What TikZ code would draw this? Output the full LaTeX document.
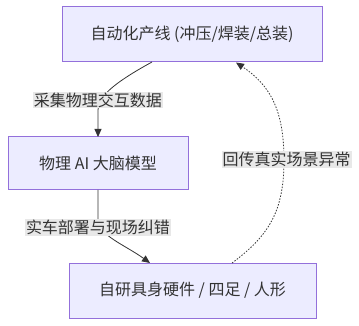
\documentclass[tikz,border=0pt]{standalone}
\usepackage{fontspec}
\setmainfont{Noto Sans CJK SC}
\usetikzlibrary{arrows.meta}
\definecolor{boxfill}{HTML}{ECECFF}
\definecolor{boxline}{HTML}{9370DB}
\definecolor{txt}{HTML}{333333}
\definecolor{lblbg}{HTML}{E8E8E8}
\begin{document}
\begin{tikzpicture}[x=1pt,y=-1pt,
  box/.style={draw=boxline,fill=boxfill,line width=1pt,text=txt,font=\fontsize{16}{19}\selectfont,inner sep=0pt,anchor=center},
  lbl/.style={fill=lblbg,text=txt,font=\fontsize{16}{19}\selectfont,inner sep=1pt,anchor=center},
  edge/.style={draw=txt,line width=0.8pt,-{Triangle[length=8pt,width=7pt]}},
  dedge/.style={edge,dash pattern=on 1.5pt off 1.5pt}]
\useasboundingbox (0,0) rectangle (359,326);
\node[box,minimum width=260pt,minimum height=55pt] (top) at (192,34.5) {自动化产线 (冲压/焊装/总装)};
\node[box,minimum width=180pt,minimum height=53pt] (mid) at (98,163.5) {物理 AI 大脑模型};
\node[box,minimum width=247pt,minimum height=55pt] (bot) at (192.5,290.5) {自研具身硬件 / 四足 / 人形};
\coordinate (t1) at (152,62);
\coordinate (t2) at (236,62.5);
\coordinate (m1) at (98,137);
\coordinate (m2) at (98,190);
\coordinate (b1) at (150,263);
\coordinate (b2) at (232,263);
\draw[edge] (t1) .. controls (110,85) and (98,98) .. (98,110) -- (m1);
\draw[edge] (m2) -- (98,220) .. controls (98,235) and (125,245) .. (b1);
\draw[dedge] (b2) .. controls (270,235) and (284,210) .. (284,160) .. controls (284,110) and (270,85) .. (t2);
\node[lbl] (l1) at (98,100) {采集物理交互数据};
\node[lbl] (l2) at (98,227.5) {实车部署与现场纠错};
\node[lbl] (l3) at (286.5,159.5) {回传真实场景异常};
\end{tikzpicture}
\end{document}
